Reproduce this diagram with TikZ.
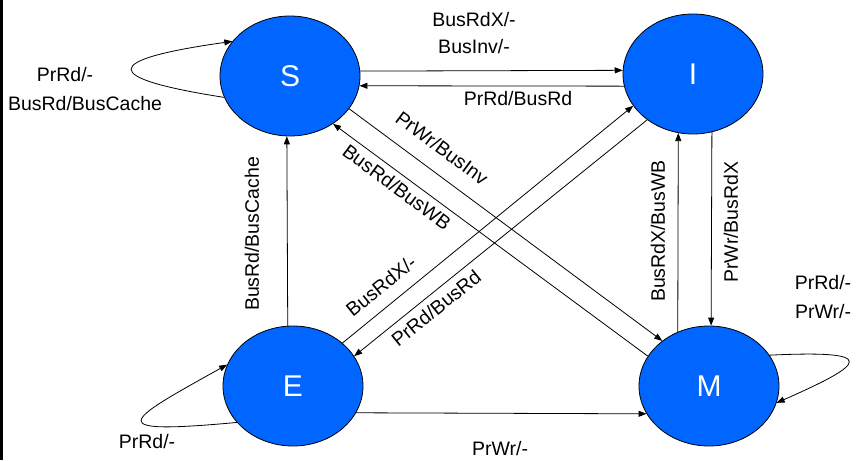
\documentclass[tikz,border=0pt]{standalone}
\usepackage{fontspec}
\setmainfont{Liberation Sans}
\usetikzlibrary{arrows.meta,shapes.geometric}
\definecolor{stateblue}{RGB}{0,102,255}
\begin{document}
\begin{tikzpicture}[x=1pt,y=-1pt,
  state/.style={ellipse,draw=black,line width=0.8pt,fill=stateblue,minimum width=140pt,minimum height=120pt,inner sep=0pt,text=white,font=\fontsize{30}{36}\selectfont},
  lbl/.style={font=\fontsize{19.5}{23}\selectfont,inner sep=0pt},
  arr/.style={-{Triangle[length=8pt,width=6pt]},line width=0.8pt},
  ]
\useasboundingbox (0,0) rectangle (858,460);
\fill[white] (0,0) rectangle (858,460);
\draw[line width=2.5pt] (1.25,0) -- (1.25,460);

\node[state] (S) at (290,76) {S};
\node[state] (I) at (693,74) {I};
\node[state] (E) at (293,386) {E};
\node[state] (M) at (709,386) {M};

% S <-> I
\draw[arr] (S.4.1) -- (I.177.5);
\draw[arr] (I.190) -- (S.-8.2);
% S <-> M diagonals
\draw[arr] (S.-29.5) -- (M.136.2);
\draw[arr] (M.154.9) -- (S.-48.6);
% E <-> I diagonals
\draw[arr] (E.41.9) -- (I.-152.2);
\draw[arr] (I.-135.6) -- (E.26.2);
% verticals
\draw[arr] (E.95.7) -- (S.267.1);
\draw[arr] (M.120) -- (I.-104.4);
\draw[arr] (I.-72.8) -- (M.88.1);
% E -> M
\draw[arr] (E.-23.4) -- (M.-156.6);
% self loops
\draw[arr] (S.198.7) .. controls (100,78) and (100,60) .. (S.149.2);
\draw[arr] (E.213.5) .. controls (100,435) and (124,422) .. (E.162.9);
\draw[arr] (M.27.7) .. controls (880,350) and (867,363) .. (M.-14.4);

% labels
\node[lbl] (l1) at (474,20) {BusRdX/-};
\node[lbl] (l2) at (474,47) {BusInv/-};
\node[lbl] (l3) at (518,99) {PrRd/BusRd};
\node[lbl] (l4) at (65,75) {PrRd/-};
\node[lbl] (l5) at (85,104) {BusRd/BusCache};
\node[lbl] (l6) at (147,442) {PrRd/-};
\node[lbl] (l7) at (500,449) {PrWr/-};
\node[lbl] (l8) at (823,283) {PrRd/-};
\node[lbl] (l9) at (823,312) {PrWr/-};
\node[lbl,rotate=90] (l10) at (252,234) {BusRd/BusCache};
\node[lbl,rotate=90] (l11) at (658,231) {BusRdX/BusWB};
\node[lbl,rotate=90] (l12) at (731,222) {PrWr/BusRdX};
\node[lbl,rotate=-36.5] (l13) at (442,148) {PrWr/BusInv};
\node[lbl,rotate=-36.5] (l14) at (397,187) {BusRd/BusWB};
\node[lbl,rotate=39] (l15) at (381,286) {BusRdX/-};
\node[lbl,rotate=39] (l16) at (436,308) {PrRd/BusRd};
\end{tikzpicture}
\end{document}
